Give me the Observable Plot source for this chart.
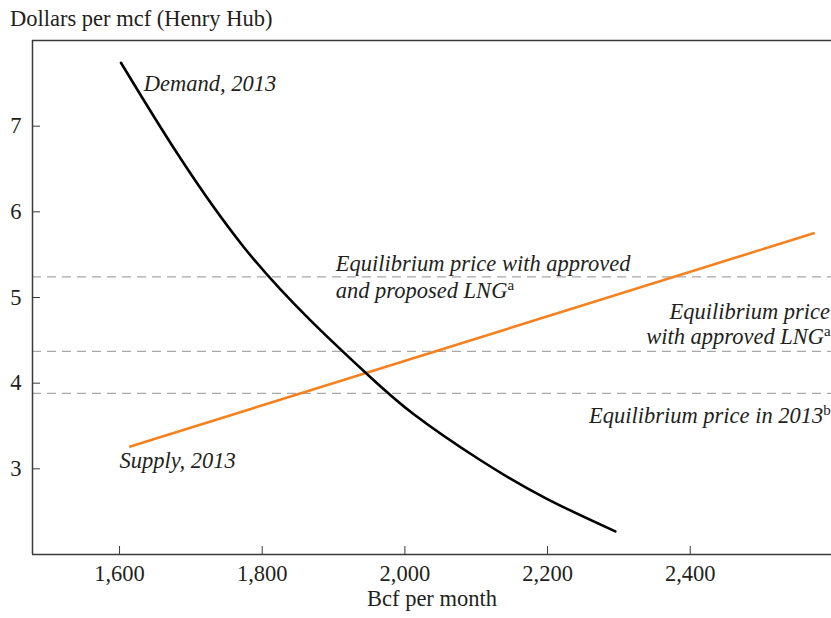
<!DOCTYPE html>
<html>
<head>
<meta charset="utf-8">
<script src="https://cdn.jsdelivr.net/npm/d3@7"></script>
<script src="https://cdn.jsdelivr.net/npm/@observablehq/plot@0.6"></script>
<style>
  html, body { margin: 0; padding: 0; background: #fff; }
  #title { font-family: "Liberation Serif", serif; font-size: 22.5px; line-height: 22px; height: 22px; padding-top: 8px; padding-left: 10px; color: #231f20; white-space: nowrap; }
</style>
</head>
<body>
<div id="title">Dollars per mcf (Henry Hub)</div>
<div id="chart"></div>
<script>
const xDomain = [1478, 2598];
const yDomain = [2, 8];
const xTicks = [1600, 1800, 2000, 2200, 2400];
const yTicks = [3, 4, 5, 6, 7];

const demandX = [1602, 1681, 1774, 1868, 1949, 2012, 2106, 2199, 2295];
const demandY = [7.74, 6.68, 5.59, 4.73, 4.09, 3.64, 3.10, 2.65, 2.27];

const supplyX = [1615, 2573];
const supplyY = [3.26, 5.75];

const eqLevels = [5.24, 4.37, 3.88];

const labelText = ["Demand, 2013", "Supply, 2013", "Equilibrium price with approved", "and proposed LNG^a", "Equilibrium price", "with approved LNG^a", "Equilibrium price in 2013^b"];
const labelX = [1634, 1600, 1903, 1903, 2596, 2597, 2597];
const labelY = [7.49, 3.09, 5.39, 5.08, 4.83, 4.54, 3.62];
const labelAnchor = ["start", "start", "start", "start", "end", "end", "end"];

const xLabel = "Bcf per month";

const demand = demandX.map((x, i) => ({x, y: demandY[i]}));
const supply = supplyX.map((x, i) => ({x, y: supplyY[i]}));
const labels = labelText.map((t, i) => ({t, x: labelX[i], y: labelY[i], a: labelAnchor[i]}));

const textColor = "#231f20";
const axisColor = "#3a3a3a";

const chart = Plot.plot({
  width: 831,
  height: 588,
  marginLeft: 32,
  marginRight: 0,
  marginTop: 10,
  marginBottom: 64,
  style: { fontFamily: "Liberation Serif, serif", fontSize: "22.5px", color: textColor, background: "#fff" },
  x: { domain: xDomain, ticks: xTicks, tickFormat: d3.format(",") },
  y: { domain: yDomain, ticks: yTicks, tickFormat: d3.format("d") },
  marks: [
    Plot.ruleY(eqLevels, { stroke: "#a8a8a8", strokeWidth: 1.3, strokeDasharray: "9,6" }),
    Plot.line(supply, { x: "x", y: "y", stroke: "#f5821f", strokeWidth: 2.6 }),
    Plot.line(demand, { x: "x", y: "y", stroke: "#000", strokeWidth: 2.6, curve: "natural" }),
    Plot.ruleX([xDomain[0]], { stroke: axisColor, strokeWidth: 1.5 }),
    Plot.ruleY([yDomain[0], yDomain[1]], { stroke: axisColor, strokeWidth: 1.5 }),
    Plot.axisX({ ticks: xTicks, tickFormat: d3.format(","), tickSize: -8, tickPadding: 19, label: null, stroke: axisColor, fill: textColor }),
    Plot.axisY({ ticks: yTicks, tickFormat: d3.format("d"), tickSize: -8, tickPadding: 19, label: null, stroke: axisColor, fill: textColor }),
    Plot.text(labels.filter(d => d.a === "start"), { x: "x", y: "y", text: "t", textAnchor: "start", fontStyle: "italic", fill: textColor }),
    Plot.text(labels.filter(d => d.a === "end"), { x: "x", y: "y", text: "t", textAnchor: "end", fontStyle: "italic", fill: textColor }),
    Plot.text([xLabel], { text: d => d, frameAnchor: "bottom", dy: 51, fill: textColor })
  ]
});

d3.select(chart).selectAll("text").each(function () {
  const t = this.textContent;
  const m = t.match(/^(.*)\^(\w)$/);
  if (m) {
    this.textContent = m[1];
    d3.select(this).append("tspan")
      .attr("font-style", "normal")
      .attr("font-size", "15px")
      .attr("dy", "-8")
      .text(m[2]);
  }
});

document.getElementById("chart").appendChild(chart);
</script>
</body>
</html>
